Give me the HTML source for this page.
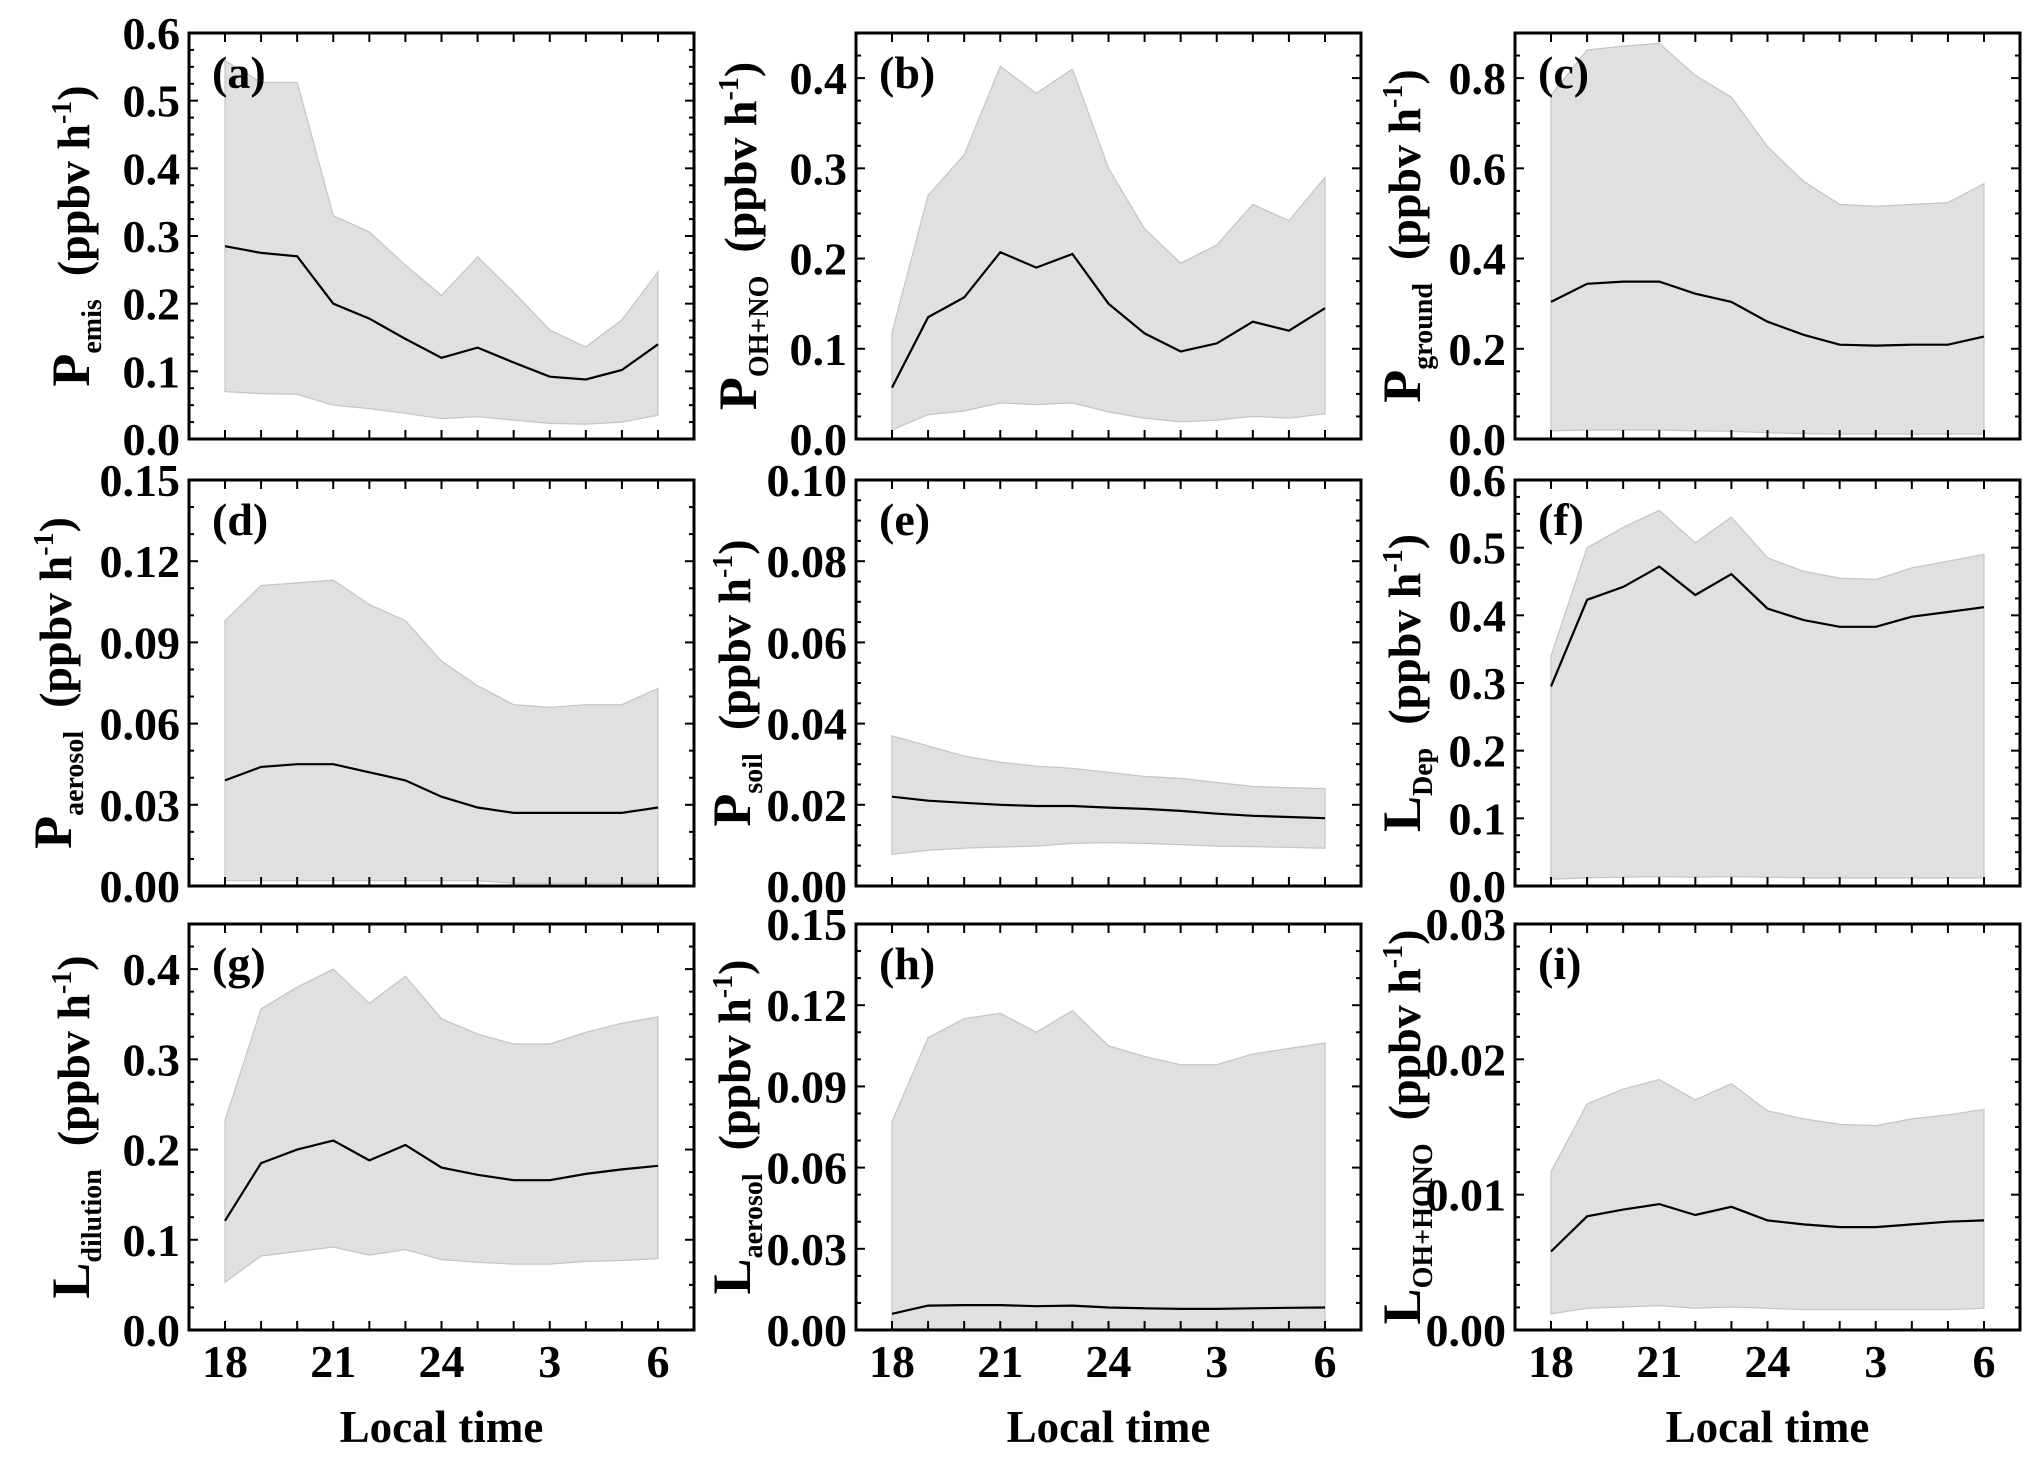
<!DOCTYPE html>
<html><head><meta charset="utf-8"><style>
html,body{margin:0;padding:0;background:#fff;}
svg{display:block;font-family:"Liberation Serif","DejaVu Serif",serif;font-weight:bold;}
</style></head><body>
<svg id="fig" xmlns="http://www.w3.org/2000/svg" width="2042" height="1462" viewBox="0 0 2042 1462"></svg>
<script>
const hours = [18,19,20,21,22,23,24,25,26,27,28,29,30];
const xTickLabels = ["18","21","24","3","6"];
const xTickHours = [18,21,24,27,30];

const aMean  = [0.285,0.275,0.27,0.2,0.178,0.148,0.12,0.135,0.113,0.092,0.088,0.102,0.14];
const aUpper = [0.559,0.527,0.527,0.33,0.306,0.257,0.212,0.269,0.217,0.161,0.136,0.176,0.247];
const aLower = [0.07,0.067,0.066,0.05,0.045,0.038,0.03,0.033,0.028,0.023,0.022,0.025,0.035];

const bMean  = [0.057,0.135,0.157,0.207,0.19,0.205,0.15,0.117,0.097,0.106,0.13,0.12,0.145];
const bUpper = [0.118,0.27,0.315,0.413,0.383,0.41,0.3,0.233,0.195,0.215,0.26,0.242,0.29];
const bLower = [0.01,0.027,0.031,0.04,0.038,0.04,0.03,0.023,0.019,0.021,0.025,0.023,0.028];

const cMean  = [0.304,0.344,0.349,0.349,0.322,0.304,0.26,0.231,0.209,0.207,0.209,0.209,0.227];
const cUpper = [0.762,0.862,0.871,0.877,0.806,0.758,0.648,0.571,0.52,0.516,0.52,0.524,0.566];
const cLower = [0.018,0.02,0.02,0.02,0.018,0.017,0.014,0.012,0.011,0.011,0.011,0.011,0.011];

const dMean  = [0.039,0.044,0.045,0.045,0.042,0.039,0.033,0.029,0.027,0.027,0.027,0.027,0.029];
const dUpper = [0.098,0.111,0.112,0.113,0.104,0.098,0.083,0.074,0.067,0.066,0.067,0.067,0.073];
const dLower = [0.002,0.002,0.002,0.002,0.002,0.002,0.002,0.002,0.001,0.001,0.001,0.001,0.001];

const eMean  = [0.022,0.021,0.0205,0.02,0.0197,0.0197,0.0193,0.019,0.0185,0.0178,0.0173,0.017,0.0167];
const eUpper = [0.037,0.0345,0.032,0.0305,0.0295,0.029,0.028,0.027,0.0265,0.0255,0.0245,0.0242,0.024];
const eLower = [0.0078,0.0088,0.0093,0.0096,0.0098,0.0105,0.0107,0.0105,0.0102,0.0098,0.0097,0.0095,0.0093];

const fMean  = [0.295,0.423,0.442,0.472,0.43,0.461,0.41,0.393,0.383,0.383,0.398,0.405,0.412];
const fUpper = [0.34,0.5,0.53,0.555,0.507,0.545,0.485,0.465,0.455,0.453,0.47,0.48,0.49];
const fLower = [0.01,0.012,0.013,0.014,0.013,0.014,0.013,0.012,0.012,0.012,0.012,0.012,0.012];

const gMean  = [0.121,0.185,0.2,0.21,0.188,0.205,0.18,0.172,0.166,0.166,0.173,0.178,0.182];
const gUpper = [0.232,0.356,0.38,0.4,0.362,0.392,0.345,0.328,0.317,0.317,0.33,0.34,0.347];
const gLower = [0.053,0.082,0.087,0.092,0.083,0.089,0.078,0.075,0.073,0.073,0.076,0.077,0.079];

const hMean  = [0.006,0.009,0.0092,0.0092,0.0088,0.009,0.0083,0.008,0.0078,0.0078,0.008,0.0082,0.0083];
const hUpper = [0.077,0.108,0.115,0.117,0.11,0.118,0.105,0.101,0.098,0.098,0.102,0.104,0.106];
const hLower = [0.0005,0.0005,0.0005,0.0005,0.0005,0.0005,0.0005,0.0005,0.0005,0.0005,0.0005,0.0005,0.0005];

const iMean  = [0.0058,0.0084,0.0089,0.0093,0.0085,0.0091,0.0081,0.0078,0.0076,0.0076,0.0078,0.008,0.0081];
const iUpper = [0.0117,0.0167,0.0178,0.0185,0.017,0.0182,0.0162,0.0156,0.0152,0.0151,0.0156,0.0159,0.0163];
const iLower = [0.0012,0.0016,0.0017,0.0018,0.0016,0.0017,0.0016,0.0015,0.0015,0.0015,0.0015,0.0015,0.0016];

const aTicks = ["0.0","0.1","0.2","0.3","0.4","0.5","0.6"];
const bTicks = ["0.0","0.1","0.2","0.3","0.4"];
const cTicks = ["0.0","0.2","0.4","0.6","0.8"];
const dTicks = ["0.00","0.03","0.06","0.09","0.12","0.15"];
const eTicks = ["0.00","0.02","0.04","0.06","0.08","0.10"];
const fTicks = ["0.0","0.1","0.2","0.3","0.4","0.5","0.6"];
const gTicks = ["0.0","0.1","0.2","0.3","0.4"];
const hTicks = ["0.00","0.03","0.06","0.09","0.12","0.15"];
const iTicks = ["0.00","0.01","0.02","0.03"];

const NS = "http://www.w3.org/2000/svg";
const svg = document.getElementById('fig');
function mk(tag, attrs, parent){
  const e = document.createElementNS(NS, tag);
  for (const k in attrs) e.setAttribute(k, attrs[k]);
  (parent||svg).appendChild(e);
  return e;
}
const colLeft = [189, 856, 1515];
const rowTop = [33, 480, 924];
const W = 505, H = 406;

const panels = [
 {id:'a',col:0,row:0,mean:aMean,up:aUpper,lo:aLower,ymax:0.6,step:0.1,minor:4,ticks:aTicks,main:'P',sub:'emis',tx:117},
 {id:'b',col:1,row:0,mean:bMean,up:bUpper,lo:bLower,ymax:0.45,step:0.1,minor:4,ticks:bTicks,main:'P',sub:'OH+NO',tx:117},
 {id:'c',col:2,row:0,mean:cMean,up:cUpper,lo:cLower,ymax:0.9,step:0.2,minor:4,ticks:cTicks,main:'P',sub:'ground',tx:112},
 {id:'d',col:0,row:1,mean:dMean,up:dUpper,lo:dLower,ymax:0.15,step:0.03,minor:3,ticks:dTicks,main:'P',sub:'aerosol',tx:135},
 {id:'e',col:1,row:1,mean:eMean,up:eUpper,lo:eLower,ymax:0.1,step:0.02,minor:4,ticks:eTicks,main:'P',sub:'soil',tx:123},
 {id:'f',col:2,row:1,mean:fMean,up:fUpper,lo:fLower,ymax:0.6,step:0.1,minor:4,ticks:fTicks,main:'L',sub:'Dep',tx:112},
 {id:'g',col:0,row:2,mean:gMean,up:gUpper,lo:gLower,ymax:0.45,step:0.1,minor:4,ticks:gTicks,main:'L',sub:'dilution',tx:117},
 {id:'h',col:1,row:2,mean:hMean,up:hUpper,lo:hLower,ymax:0.15,step:0.03,minor:3,ticks:hTicks,main:'L',sub:'aerosol',tx:123},
 {id:'i',col:2,row:2,mean:iMean,up:iUpper,lo:iLower,ymax:0.03,step:0.01,minor:6,ticks:iTicks,main:'L',sub:'OH+HONO',tx:112}
];

panels.forEach(p=>{
  const L = colLeft[p.col], T = rowTop[p.row], R = L+W, B = T+H;
  const g = mk('g',{});
  
  
  const xs = h => L + 36 + (h-18)*(W-72)/12;
  const ys = v => B - v/p.ymax*H;
  let d = '';
  hours.forEach((h,k)=>{ d += (k?'L':'M') + xs(h).toFixed(1)+','+ys(p.up[k]).toFixed(1); });
  for (let k=hours.length-1;k>=0;k--) d += 'L'+xs(hours[k]).toFixed(1)+','+ys(p.lo[k]).toFixed(1);
  d += 'Z';
  const band = mk('path',{d:d,fill:'#e0e0e0',stroke:'#c4c4c4','stroke-width':1.2},g);
  
  
  let dm = '';
  hours.forEach((h,k)=>{ dm += (k?'L':'M') + xs(h).toFixed(1)+','+ys(p.mean[k]).toFixed(1); });
  const line = mk('path',{d:dm,fill:'none',stroke:'#000','stroke-width':2.2},g);
  
  
  const fr = mk('rect',{x:L,y:T,width:W,height:H,fill:'none',stroke:'#000','stroke-width':3},g);
  
  
  hours.forEach(h=>{
    const x = xs(h), len = 9;
    mk('line',{x1:x,y1:B,x2:x,y2:B-len,stroke:'#000','stroke-width':2},g);
    mk('line',{x1:x,y1:T,x2:x,y2:T+len,stroke:'#000','stroke-width':2},g);
  });
  if (p.row===2){
    xTickHours.forEach((h,k)=>{
      const t = mk('text',{x:xs(h),y:1377,'text-anchor':'middle','font-size':46},g);
      
      
      t.textContent = xTickLabels[k];
    });
    const lt = mk('text',{x:L+W/2,y:1442,'text-anchor':'middle','font-size':45},g);
    
    
    lt.textContent = 'Local time';
  }
  const nMin = Math.floor(p.ymax/(p.step/p.minor)+1e-6);
  for (let k=0;k<=nMin;k++){
    const v = k*p.step/p.minor, y = ys(v);
    const major = (k % p.minor)===0, len = major?9:5;
    mk('line',{x1:L,y1:y,x2:L+len,y2:y,stroke:'#000','stroke-width':2},g);
    mk('line',{x1:R,y1:y,x2:R-len,y2:y,stroke:'#000','stroke-width':2},g);
  }
  p.ticks.forEach((lab,k)=>{
    const t = mk('text',{x:L-9,y:ys(k*p.step)+16,'text-anchor':'end','font-size':46},g);
    
    
    t.textContent = lab;
  });
  const pl = mk('text',{x:L+23,y:T+55,'font-size':46},g);
  
  
  pl.textContent = '('+p.id+')';
  const cx = L - p.tx, cy = T + H/2;
  const yt = mk('text',{x:0,y:0,'text-anchor':'middle','font-size':46,transform:'translate('+(cx+17)+','+cy+') rotate(-90)'},g);
  
  
  const s1 = mk('tspan',{'font-size':54},yt); s1.textContent = p.main;
  const s2 = mk('tspan',{'font-size':28,dy:12},yt); s2.textContent = p.sub;
  const s3 = mk('tspan',{dy:-12},yt); s3.textContent = '\u00a0\u00a0(ppbv h';
  const s4 = mk('tspan',{'font-size':28,dy:-18},yt); s4.textContent = '-1';
  const s5 = mk('tspan',{dy:18},yt); s5.textContent = ')';
});
</script>
</body></html>
